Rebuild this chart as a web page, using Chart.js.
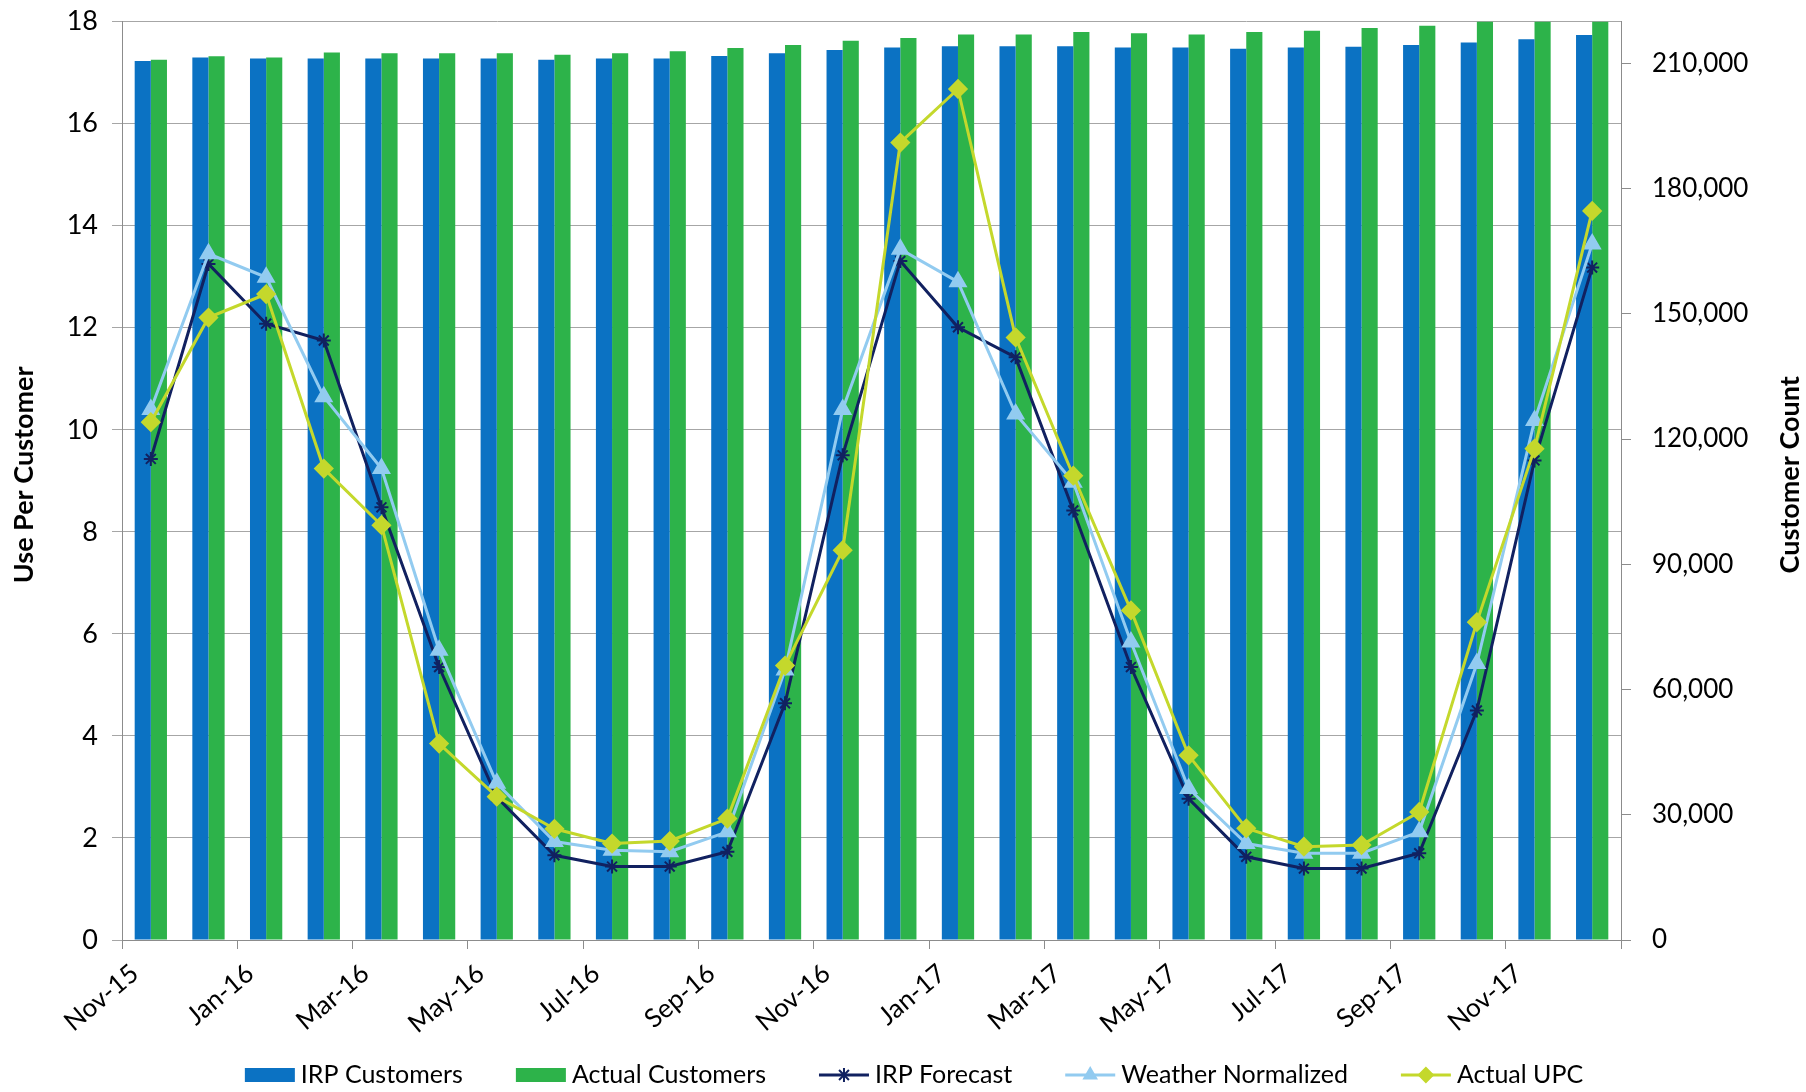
<!DOCTYPE html>
<html>
<head>
<meta charset="utf-8">
<script src="https://cdn.jsdelivr.net/npm/chart.js@4.4.0/dist/chart.umd.min.js"></script>
<style>
  html, body { margin: 0; padding: 0; background: #fff; }
</style>
</head>
<body>
<canvas id="chart" width="1806" height="1092"></canvas>
<script>
// month categories
const months = [
  'Nov-15', 'Dec-15', 'Jan-16', 'Feb-16', 'Mar-16', 'Apr-16', 'May-16', 'Jun-16', 'Jul-16',
  'Aug-16', 'Sep-16', 'Oct-16', 'Nov-16', 'Dec-16', 'Jan-17', 'Feb-17', 'Mar-17', 'Apr-17',
  'May-17', 'Jun-17', 'Jul-17', 'Aug-17', 'Sep-17', 'Oct-17', 'Nov-17', 'Dec-17',
];

// customer counts (right axis)
const irpCustomers = [
  210600, 211400, 211200, 211200, 211200, 211200, 211200, 210900, 211200, 211200, 211800, 212400, 213200,
  213800, 214100, 214100, 214100, 213800, 213800, 213500, 213800, 214000, 214400, 215000, 215800, 216800,
];
const actualCustomers = [
  210900, 211700, 211400, 212600, 212400, 212400, 212400, 212100, 212400, 212900, 213700, 214400, 215400,
  216100, 216900, 216900, 217500, 217200, 216900, 217500, 217800, 218500, 219000, 220600, 221000, 221500,
];

// use per customer (left axis)
const irpForecast = [
  9.43, 13.25, 12.08, 11.75, 8.48, 5.35, 2.8, 1.66, 1.44, 1.44, 1.73, 4.64, 9.5,
  13.31, 12.01, 11.42, 8.42, 5.35, 2.77, 1.63, 1.4, 1.4, 1.7, 4.5, 9.4, 13.18,
];
const weatherNormalized = [
  10.4, 13.45, 12.99, 10.65, 9.24, 5.68, 3.07, 1.93, 1.76, 1.73, 2.12, 5.29, 10.4,
  13.54, 12.9, 10.31, 8.97, 5.84, 2.97, 1.89, 1.7, 1.7, 2.12, 5.42, 10.18, 13.64,
];
const actualUPC = [
  10.15, 12.2, 12.66, 9.24, 8.13, 3.85, 2.81, 2.18, 1.89, 1.94, 2.38, 5.38, 7.64,
  15.63, 16.68, 11.81, 9.1, 6.46, 3.62, 2.19, 1.83, 1.86, 2.51, 6.23, 9.63, 14.29,
];

// axis ticks
const leftTicks = [0, 2, 4, 6, 8, 10, 12, 14, 16, 18];
const rightTicks = [0, 30000, 60000, 90000, 120000, 150000, 180000, 210000];

const leftTitle = 'Use Per Customer';
const rightTitle = 'Customer Count';

const FONT = 'Lato';
const blue = '#0b72c3';
const green = '#2db34a';
const navy = '#112160';
const lightBlue = '#92cbf0';
const lime = '#c4d82c';
const gridGray = '#a6a6a6';
const axisGray = '#8c8c8c';

// axis titles, both reading bottom to top
const axisTitles = {
  id: 'axisTitles',
  afterDraw(chart) {
    const ctx = chart.ctx;
    const area = chart.chartArea;
    const midY = (area.top + area.bottom) / 2 - 6;
    [[leftTitle, 24], [rightTitle, 1790]].forEach(function (t) {
      ctx.save();
      ctx.font = 'bold 27px ' + FONT;
      ctx.fillStyle = '#000';
      ctx.textAlign = 'center';
      ctx.textBaseline = 'middle';
      ctx.translate(t[1], midY);
      ctx.rotate(-Math.PI / 2);
      ctx.fillText(t[0], 0, 0);
      ctx.restore();
    });
  },
};

// Excel style legend along the bottom: 50px sample, short gap, label
const bottomLegend = {
  id: 'bottomLegend',
  afterDraw(chart) {
    const ctx = chart.ctx;
    const sets = chart.data.datasets;
    const y = 1075;
    const sample = 50;
    const gap = 6;
    const spacing = 53;
    ctx.save();
    ctx.font = '25px ' + FONT;
    const widths = sets.map(function (ds) { return ctx.measureText(ds.label).width; });
    let total = 0;
    widths.forEach(function (w) { total += sample + gap + w; });
    total += spacing * (sets.length - 1);
    let x = 914 - total / 2;
    sets.forEach(function (ds, i) {
      if (ds.type === 'bar') {
        ctx.fillStyle = ds.backgroundColor;
        ctx.fillRect(x, y - 7, sample, 14);
      } else {
        ctx.strokeStyle = ds.borderColor;
        ctx.fillStyle = ds.backgroundColor;
        ctx.lineWidth = 3;
        ctx.beginPath();
        ctx.moveTo(x, y);
        ctx.lineTo(x + sample, y);
        ctx.stroke();
        ctx.lineWidth = 2;
        Chart.helpers.drawPoint(ctx, { pointStyle: ds.pointStyle, radius: 7, rotation: 0, borderWidth: 2 }, x + sample / 2, y);
      }
      ctx.fillStyle = '#000';
      ctx.textAlign = 'left';
      ctx.textBaseline = 'middle';
      ctx.fillText(ds.label, x + sample + gap, y);
      x += sample + gap + widths[i] + spacing;
    });
    ctx.restore();
  },
};

const datasets = [
  {
    type: 'bar',
    label: 'IRP Customers',
    data: irpCustomers,
    backgroundColor: blue,
    yAxisID: 'y1',
    order: 4,
    categoryPercentage: 0.56,
    barPercentage: 1.0,
  },
  {
    type: 'bar',
    label: 'Actual Customers',
    data: actualCustomers,
    backgroundColor: green,
    yAxisID: 'y1',
    order: 4,
    categoryPercentage: 0.56,
    barPercentage: 1.0,
  },
  {
    type: 'line',
    label: 'IRP Forecast',
    data: irpForecast,
    borderColor: navy,
    backgroundColor: navy,
    borderWidth: 3,
    pointStyle: 'star',
    pointRadius: 7,
    pointBorderWidth: 2,
    yAxisID: 'y',
    order: 3,
  },
  {
    type: 'line',
    label: 'Weather Normalized',
    data: weatherNormalized,
    borderColor: lightBlue,
    backgroundColor: lightBlue,
    borderWidth: 3,
    pointStyle: 'triangle',
    pointRadius: 8,
    yAxisID: 'y',
    order: 2,
  },
  {
    type: 'line',
    label: 'Actual UPC',
    data: actualUPC,
    borderColor: lime,
    backgroundColor: lime,
    borderWidth: 3,
    pointStyle: 'rectRot',
    pointRadius: 8,
    yAxisID: 'y',
    order: 1,
  },
];

Chart.defaults.font.family = FONT;
Chart.defaults.color = '#000';

new Chart(document.getElementById('chart'), {
  type: 'bar',
  data: {
    labels: months,
    datasets: datasets,
  },
  options: {
    responsive: false,
    animation: false,
    layout: {
      padding: { top: 21, left: 0, right: 0, bottom: 0 },
    },
    plugins: {
      tooltip: { enabled: false },
      legend: { display: false },
    },
    scales: {
      x: {
        offset: true,
        grid: {
          offset: true,
          drawOnChartArea: false,
          drawTicks: true,
          tickLength: 9,
          color: function (ctx) {
            return ctx.index === undefined || ctx.index % 2 === 0 ? axisGray : 'transparent';
          },
        },
        border: { display: true, color: axisGray },
        ticks: {
          autoSkip: false,
          minRotation: 40,
          maxRotation: 40,
          padding: 9,
          labelOffset: -16,
          font: { size: 26 },
          color: '#000',
          callback: function (value, index) {
            return index % 2 === 0 ? months[index] : '';
          },
        },
        afterFit: function (scale) {
          scale.height = 152;
        },
      },
      y: {
        position: 'left',
        min: 0,
        max: 18,
        afterBuildTicks: function (scale) {
          scale.ticks = leftTicks.map(function (v) { return { value: v }; });
        },
        ticks: {
          padding: 14,
          font: { size: 27, lineHeight: 0.05 },
          color: '#000',
        },
        grid: {
          color: gridGray,
          lineWidth: 1,
          tickLength: 10,
        },
        border: { display: true, color: axisGray },
        afterFit: function (scale) {
          scale.width = 122;
        },
      },
      y1: {
        position: 'right',
        min: 0,
        max: 220000,
        afterBuildTicks: function (scale) {
          scale.ticks = rightTicks.map(function (v) { return { value: v }; });
        },
        ticks: {
          padding: 21,
          font: { size: 26, lineHeight: 0.05 },
          color: '#000',
          callback: function (value) {
            return value.toLocaleString('en-US');
          },
        },
        grid: {
          drawOnChartArea: false,
          color: axisGray,
          tickLength: 10,
        },
        border: { display: true, color: axisGray },
        afterFit: function (scale) {
          scale.width = 185;
        },
      },
    },
  },
  plugins: [axisTitles, bottomLegend],
});
</script>
</body>
</html>
